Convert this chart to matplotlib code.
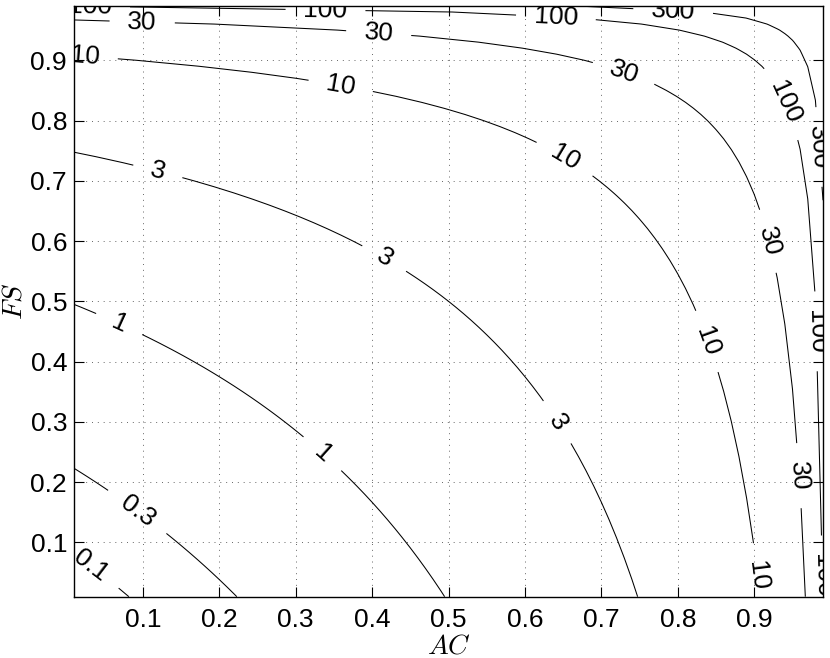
import numpy as np
import matplotlib
matplotlib.use("Agg")
import matplotlib.pyplot as plt

plt.rcParams['font.family'] = ['Liberation Sans', 'DejaVu Sans']
plt.rcParams['mathtext.fontset'] = 'cm'

# grid of the two rates
ac = np.arange(0.01, 0.995, 0.01)
fs = np.arange(0.01, 0.995, 0.01)
levels = [0.1, 0.3, 1, 3, 10, 30, 100, 300]
xticks = [0.1, 0.2, 0.3, 0.4, 0.5, 0.6, 0.7, 0.8, 0.9]
yticks = [0.1, 0.2, 0.3, 0.4, 0.5, 0.6, 0.7, 0.8, 0.9]

AC, FS = np.meshgrid(ac, fs)
Z = 1.0 / ((1 - AC) * (1 - FS)) - 1.0

fig = plt.figure(figsize=(8.3, 6.58), dpi=100)
ax = fig.add_axes([0.0892, 0.0932, 0.9024, 0.8977])

cs = ax.contour(AC, FS, Z, levels=levels, colors='k', linewidths=0.75)

# label positions (pixel -> data)
lab_px = [(90, 8), (142, 22), (85, 57), (325, 12), (378, 33), (340, 85),
          (555, 17), (672, 12), (623, 70), (784, 100), (816, 145), (565, 155),
          (157, 172), (383, 258), (765, 240), (706, 340), (812, 330), (118, 325),
          (555, 422), (320, 455), (795, 475), (138, 510), (88, 568), (757, 575),
          (818, 575)]
pos = [((px - 66.4) / 763.0, (602.3 - py) / 605.0) for px, py in lab_px]


def fmt(v):
    return ('%g' % v)

txts = ax.clabel(cs, inline=True, fontsize=19, fmt=fmt, manual=pos, inline_spacing=18)
for t in txts:
    t.set_clip_on(True)

ax.set_xlim(0.01, 0.99)
ax.set_ylim(0.01, 0.99)
ax.set_xticks(xticks)
ax.set_yticks(yticks)
ax.set_xticklabels(['%g' % v for v in xticks])
ax.set_yticklabels(['%g' % v for v in yticks])
ax.tick_params(direction='in', top=True, right=True, labelsize=19, length=7, width=0.8)
ax.tick_params(axis='x', pad=8)
ax.tick_params(axis='y', pad=5)
ax.grid(True, linestyle=(0, (1, 5)), color='#666666', linewidth=0.7)
for s in ax.spines.values():
    s.set_linewidth(1.0)

ax.set_xlabel('$AC$', fontsize=20, labelpad=1)
ax.set_ylabel('$FS$', fontsize=20, labelpad=2)

fig.savefig('out.png', dpi=100)
